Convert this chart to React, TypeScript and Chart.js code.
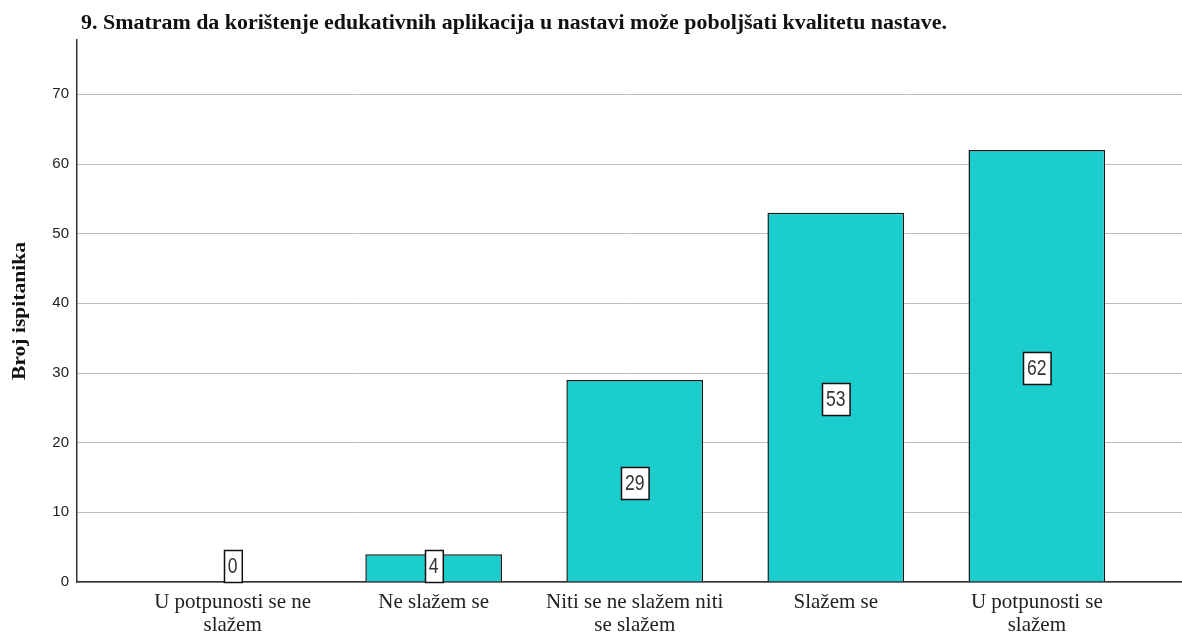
import React, { useEffect, useRef } from "react";
import { Chart, registerables } from "chart.js";

Chart.register(...registerables);

const TITLE = "9. Smatram da korištenje edukativnih aplikacija u nastavi može poboljšati kvalitetu nastave.";
const Y_TITLE = "Broj ispitanika";
const categories: string[][] = [
  ["U potpunosti se ne", "slažem"],
  ["Ne slažem se"],
  ["Niti se ne slažem niti", "se slažem"],
  ["Slažem se"],
  ["U potpunosti se", "slažem"],
];
const counts = [0, 4, 29, 53, 62];
const yTicks = [0, 10, 20, 30, 40, 50, 60, 70];

const textPlugin = {
  id: "customText",
  afterDraw(chart: any) {
    const ctx = chart.ctx as CanvasRenderingContext2D;
    const area = chart.chartArea;
    // Title
    ctx.save();
    ctx.fillStyle = "#111";
    ctx.font = "bold 20px 'Liberation Serif', serif";
    ctx.textBaseline = "alphabetic";
    ctx.textAlign = "left";
    const tw = ctx.measureText(TITLE).width;
    ctx.translate(81, 29);
    ctx.scale(866 / tw, 1);
    ctx.fillText(TITLE, 0, 0);
    ctx.restore();
    // Y title
    ctx.save();
    ctx.fillStyle = "#111";
    ctx.font = "bold 18px 'Liberation Serif', serif";
    ctx.textBaseline = "middle";
    ctx.textAlign = "center";
    const yw = ctx.measureText(Y_TITLE).width;
    ctx.translate(20, (area.top + area.bottom) / 2);
    ctx.rotate(-Math.PI / 2);
    ctx.scale(138 / yw, 1);
    ctx.fillText(Y_TITLE, 0, 0);
    ctx.restore();
  },
  afterDatasetsDraw(chart: any) {
    const ctx = chart.ctx as CanvasRenderingContext2D;
    const meta = chart.getDatasetMeta(0);
    ctx.save();
    meta.data.forEach((el: any, i: number) => {
      const label = String(counts[i]);
      ctx.font = "22px 'Liberation Sans', Arial, sans-serif";
      const w = ctx.measureText(label).width * 0.8;
      const bw = w + 8;
      const bh = 32;
      let cy = (el.y + el.base) / 2 + 2;
      if (cy + bh / 2 > el.base) cy = el.base - bh / 2;
      const x0 = Math.round(el.x - bw / 2) + 0.5;
      const y0 = Math.round(cy - bh / 2) + 0.5;
      ctx.fillStyle = "#fff";
      ctx.fillRect(x0, y0, bw, bh);
      ctx.strokeStyle = "#111";
      ctx.lineWidth = 1.5;
      ctx.strokeRect(x0, y0, bw, bh);
      ctx.save();
      ctx.translate(el.x, cy + 1);
      ctx.scale(0.8, 1);
      ctx.fillStyle = "#333";
      ctx.textAlign = "center";
      ctx.textBaseline = "middle";
      ctx.fillText(label, 0, 0);
      ctx.restore();
    });
    ctx.restore();
  },
};

export default function App() {
  const ref = useRef<HTMLCanvasElement>(null);
  useEffect(() => {
    if (!ref.current) return;
    const chart = new Chart(ref.current, {
      type: "bar",
      data: {
        datasets: [
          {
            data: counts.map((v, i) => ({ x: i, y: v })),
            backgroundColor: "#1ccdcd",
            borderColor: "#1a1a1a",
            borderWidth: 1.5,
            categoryPercentage: 1,
            barPercentage: 0.68,
          },
        ],
      },
      options: {
        animation: false,
        responsive: false,
        maintainAspectRatio: false,
        layout: { padding: { top: 40, right: 0, left: 0, bottom: 0 } },
        plugins: { legend: { display: false }, tooltip: { enabled: false }, title: { display: false } },
        scales: {
          x: {
            type: "linear",
            offset: false,
            min: -0.774,
            max: 4.722,
            grid: { display: false, drawTicks: false, offset: false },
            border: { display: true, color: "#333", width: 1.5 },
            afterFit: (s: any) => { s.height = 53; },
            afterBuildTicks: (s: any) => { s.ticks = categories.map((_, i) => ({ value: i })); },
            ticks: {
              autoSkip: false,
              maxRotation: 0,
              padding: 9,
              color: "#222",
              font: { family: "'Liberation Serif', serif", size: 21, lineHeight: 1.1 },
              callback: (v: any) => (Number.isInteger(v) && categories[v] ? categories[v] : ""),
            },
          },
          y: {
            min: 0,
            max: 77.8,
            afterFit: (s: any) => { s.width = 77; },
            afterBuildTicks: (s: any) => { s.ticks = yTicks.map((v) => ({ value: v })); },
            grid: { color: "#bdbdbd", lineWidth: 1, drawTicks: false },
            border: { display: true, color: "#333", width: 1.5 },
            ticks: {
              padding: 8,
              color: "#222",
              font: { family: "'Liberation Sans', Arial, sans-serif", size: 15 },
            },
          },
        },
      },
      plugins: [textPlugin],
    } as any);
    return () => chart.destroy();
  }, []);
  return (
    <div style={{ position: "fixed", left: 0, top: 0, width: 1182, height: 635, background: "#fff" }}>
      <canvas ref={ref} width={1182} height={635} style={{ width: 1182, height: 635 }} />
    </div>
  );
}
